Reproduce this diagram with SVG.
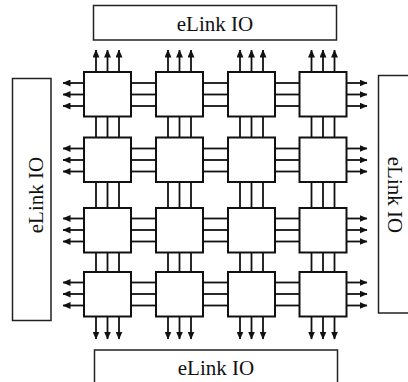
<svg xmlns="http://www.w3.org/2000/svg" width="408" height="382" viewBox="0 0 408 382">
<style>
.io{fill:#fff;stroke:#222;stroke-width:1.5}
.node{fill:#fff;stroke:#111;stroke-width:2}
.lbl{font-family:"Liberation Serif","Times New Roman",serif;font-size:21px;fill:#111;text-anchor:middle}
.c line{stroke:#111;stroke-width:1.8}
.a line{stroke:#111;stroke-width:1.8;marker-end:url(#ah)}
</style>
<defs>
<marker id="ah" viewBox="0 0 8 7" refX="7.5" refY="3.5" markerWidth="8" markerHeight="7" markerUnits="userSpaceOnUse" orient="auto">
<path d="M0,0 L8,3.5 L0,7 Z" fill="#111"/>
</marker>
</defs>
<rect width="408" height="382" fill="#fff"/>
<g id="io-top"><rect class="io" x="93.5" y="5.5" width="243" height="34.5"/><text class="lbl" x="215" y="31">eLink IO</text></g>
<g id="io-bottom"><rect class="io" x="94.5" y="350" width="243" height="50"/><text class="lbl" x="216" y="375">eLink IO</text></g>
<g id="io-left"><rect class="io" x="12.5" y="78.5" width="38.5" height="242"/><text class="lbl" transform="translate(43,195) rotate(-90)">eLink IO</text></g>
<g id="io-right"><rect class="io" x="378.5" y="75.5" width="40" height="237.5"/><text class="lbl" transform="translate(388,195) rotate(90)">eLink IO</text></g>
<g id="connectors">
<g class="c">
<!-- horizontal row links -->
<line x1="131" y1="83" x2="156" y2="83"/><line x1="131" y1="94.5" x2="156" y2="94.5"/><line x1="131" y1="106" x2="156" y2="106"/>
<line x1="203" y1="83" x2="228" y2="83"/><line x1="203" y1="94.5" x2="228" y2="94.5"/><line x1="203" y1="106" x2="228" y2="106"/>
<line x1="275" y1="83" x2="299.5" y2="83"/><line x1="275" y1="94.5" x2="299.5" y2="94.5"/><line x1="275" y1="106" x2="299.5" y2="106"/>
<line x1="131" y1="148.5" x2="156" y2="148.5"/><line x1="131" y1="160" x2="156" y2="160"/><line x1="131" y1="171.5" x2="156" y2="171.5"/>
<line x1="203" y1="148.5" x2="228" y2="148.5"/><line x1="203" y1="160" x2="228" y2="160"/><line x1="203" y1="171.5" x2="228" y2="171.5"/>
<line x1="275" y1="148.5" x2="299.5" y2="148.5"/><line x1="275" y1="160" x2="299.5" y2="160"/><line x1="275" y1="171.5" x2="299.5" y2="171.5"/>
<line x1="131" y1="218.5" x2="156" y2="218.5"/><line x1="131" y1="230" x2="156" y2="230"/><line x1="131" y1="241.5" x2="156" y2="241.5"/>
<line x1="203" y1="218.5" x2="228" y2="218.5"/><line x1="203" y1="230" x2="228" y2="230"/><line x1="203" y1="241.5" x2="228" y2="241.5"/>
<line x1="275" y1="218.5" x2="299.5" y2="218.5"/><line x1="275" y1="230" x2="299.5" y2="230"/><line x1="275" y1="241.5" x2="299.5" y2="241.5"/>
<line x1="131" y1="282.5" x2="156" y2="282.5"/><line x1="131" y1="294" x2="156" y2="294"/><line x1="131" y1="305.5" x2="156" y2="305.5"/>
<line x1="203" y1="282.5" x2="228" y2="282.5"/><line x1="203" y1="294" x2="228" y2="294"/><line x1="203" y1="305.5" x2="228" y2="305.5"/>
<line x1="275" y1="282.5" x2="299.5" y2="282.5"/><line x1="275" y1="294" x2="299.5" y2="294"/><line x1="275" y1="305.5" x2="299.5" y2="305.5"/>
<!-- vertical column links -->
<line x1="96" y1="116.5" x2="96" y2="137.5"/><line x1="107.5" y1="116.5" x2="107.5" y2="137.5"/><line x1="119" y1="116.5" x2="119" y2="137.5"/>
<line x1="168" y1="116.5" x2="168" y2="137.5"/><line x1="179.5" y1="116.5" x2="179.5" y2="137.5"/><line x1="191" y1="116.5" x2="191" y2="137.5"/>
<line x1="240" y1="116.5" x2="240" y2="137.5"/><line x1="251.5" y1="116.5" x2="251.5" y2="137.5"/><line x1="263" y1="116.5" x2="263" y2="137.5"/>
<line x1="311.5" y1="116.5" x2="311.5" y2="137.5"/><line x1="323" y1="116.5" x2="323" y2="137.5"/><line x1="334.5" y1="116.5" x2="334.5" y2="137.5"/>
<line x1="96" y1="182" x2="96" y2="208"/><line x1="107.5" y1="182" x2="107.5" y2="208"/><line x1="119" y1="182" x2="119" y2="208"/>
<line x1="168" y1="182" x2="168" y2="208"/><line x1="179.5" y1="182" x2="179.5" y2="208"/><line x1="191" y1="182" x2="191" y2="208"/>
<line x1="240" y1="182" x2="240" y2="208"/><line x1="251.5" y1="182" x2="251.5" y2="208"/><line x1="263" y1="182" x2="263" y2="208"/>
<line x1="311.5" y1="182" x2="311.5" y2="208"/><line x1="323" y1="182" x2="323" y2="208"/><line x1="334.5" y1="182" x2="334.5" y2="208"/>
<line x1="96" y1="252.5" x2="96" y2="272"/><line x1="107.5" y1="252.5" x2="107.5" y2="272"/><line x1="119" y1="252.5" x2="119" y2="272"/>
<line x1="168" y1="252.5" x2="168" y2="272"/><line x1="179.5" y1="252.5" x2="179.5" y2="272"/><line x1="191" y1="252.5" x2="191" y2="272"/>
<line x1="240" y1="252.5" x2="240" y2="272"/><line x1="251.5" y1="252.5" x2="251.5" y2="272"/><line x1="263" y1="252.5" x2="263" y2="272"/>
<line x1="311.5" y1="252.5" x2="311.5" y2="272"/><line x1="323" y1="252.5" x2="323" y2="272"/><line x1="334.5" y1="252.5" x2="334.5" y2="272"/>
</g>
<g class="a">
<!-- top arrows -->
<line x1="96" y1="72" x2="96" y2="50"/><line x1="107.5" y1="72" x2="107.5" y2="50"/><line x1="119" y1="72" x2="119" y2="50"/>
<line x1="168" y1="72" x2="168" y2="50"/><line x1="179.5" y1="72" x2="179.5" y2="50"/><line x1="191" y1="72" x2="191" y2="50"/>
<line x1="240" y1="72" x2="240" y2="50"/><line x1="251.5" y1="72" x2="251.5" y2="50"/><line x1="263" y1="72" x2="263" y2="50"/>
<line x1="311.5" y1="72" x2="311.5" y2="50"/><line x1="323" y1="72" x2="323" y2="50"/><line x1="334.5" y1="72" x2="334.5" y2="50"/>
<!-- bottom arrows -->
<line x1="96" y1="316" x2="96" y2="339"/><line x1="107.5" y1="316" x2="107.5" y2="339"/><line x1="119" y1="316" x2="119" y2="339"/>
<line x1="168" y1="316" x2="168" y2="339"/><line x1="179.5" y1="316" x2="179.5" y2="339"/><line x1="191" y1="316" x2="191" y2="339"/>
<line x1="240" y1="316" x2="240" y2="339"/><line x1="251.5" y1="316" x2="251.5" y2="339"/><line x1="263" y1="316" x2="263" y2="339"/>
<line x1="311.5" y1="316" x2="311.5" y2="339"/><line x1="323" y1="316" x2="323" y2="339"/><line x1="334.5" y1="316" x2="334.5" y2="339"/>
<!-- left arrows -->
<line x1="84" y1="83" x2="63" y2="83"/><line x1="84" y1="94.5" x2="63" y2="94.5"/><line x1="84" y1="106" x2="63" y2="106"/>
<line x1="84" y1="148.5" x2="63" y2="148.5"/><line x1="84" y1="160" x2="63" y2="160"/><line x1="84" y1="171.5" x2="63" y2="171.5"/>
<line x1="84" y1="218.5" x2="63" y2="218.5"/><line x1="84" y1="230" x2="63" y2="230"/><line x1="84" y1="241.5" x2="63" y2="241.5"/>
<line x1="84" y1="282.5" x2="63" y2="282.5"/><line x1="84" y1="294" x2="63" y2="294"/><line x1="84" y1="305.5" x2="63" y2="305.5"/>
<!-- right arrows -->
<line x1="346.5" y1="83" x2="367" y2="83"/><line x1="346.5" y1="94.5" x2="367" y2="94.5"/><line x1="346.5" y1="106" x2="367" y2="106"/>
<line x1="346.5" y1="148.5" x2="367" y2="148.5"/><line x1="346.5" y1="160" x2="367" y2="160"/><line x1="346.5" y1="171.5" x2="367" y2="171.5"/>
<line x1="346.5" y1="218.5" x2="367" y2="218.5"/><line x1="346.5" y1="230" x2="367" y2="230"/><line x1="346.5" y1="241.5" x2="367" y2="241.5"/>
<line x1="346.5" y1="282.5" x2="367" y2="282.5"/><line x1="346.5" y1="294" x2="367" y2="294"/><line x1="346.5" y1="305.5" x2="367" y2="305.5"/>
</g>
</g>
<g id="n11"><rect class="node" x="84" y="72" width="47" height="44.5"/></g>
<g id="n12"><rect class="node" x="156" y="72" width="47" height="44.5"/></g>
<g id="n13"><rect class="node" x="228" y="72" width="47" height="44.5"/></g>
<g id="n14"><rect class="node" x="299.5" y="72" width="47" height="44.5"/></g>
<g id="n21"><rect class="node" x="84" y="137.5" width="47" height="44.5"/></g>
<g id="n22"><rect class="node" x="156" y="137.5" width="47" height="44.5"/></g>
<g id="n23"><rect class="node" x="228" y="137.5" width="47" height="44.5"/></g>
<g id="n24"><rect class="node" x="299.5" y="137.5" width="47" height="44.5"/></g>
<g id="n31"><rect class="node" x="84" y="208" width="47" height="44.5"/></g>
<g id="n32"><rect class="node" x="156" y="208" width="47" height="44.5"/></g>
<g id="n33"><rect class="node" x="228" y="208" width="47" height="44.5"/></g>
<g id="n34"><rect class="node" x="299.5" y="208" width="47" height="44.5"/></g>
<g id="n41"><rect class="node" x="84" y="272" width="47" height="44.5"/></g>
<g id="n42"><rect class="node" x="156" y="272" width="47" height="44.5"/></g>
<g id="n43"><rect class="node" x="228" y="272" width="47" height="44.5"/></g>
<g id="n44"><rect class="node" x="299.5" y="272" width="47" height="44.5"/></g>
</svg>
